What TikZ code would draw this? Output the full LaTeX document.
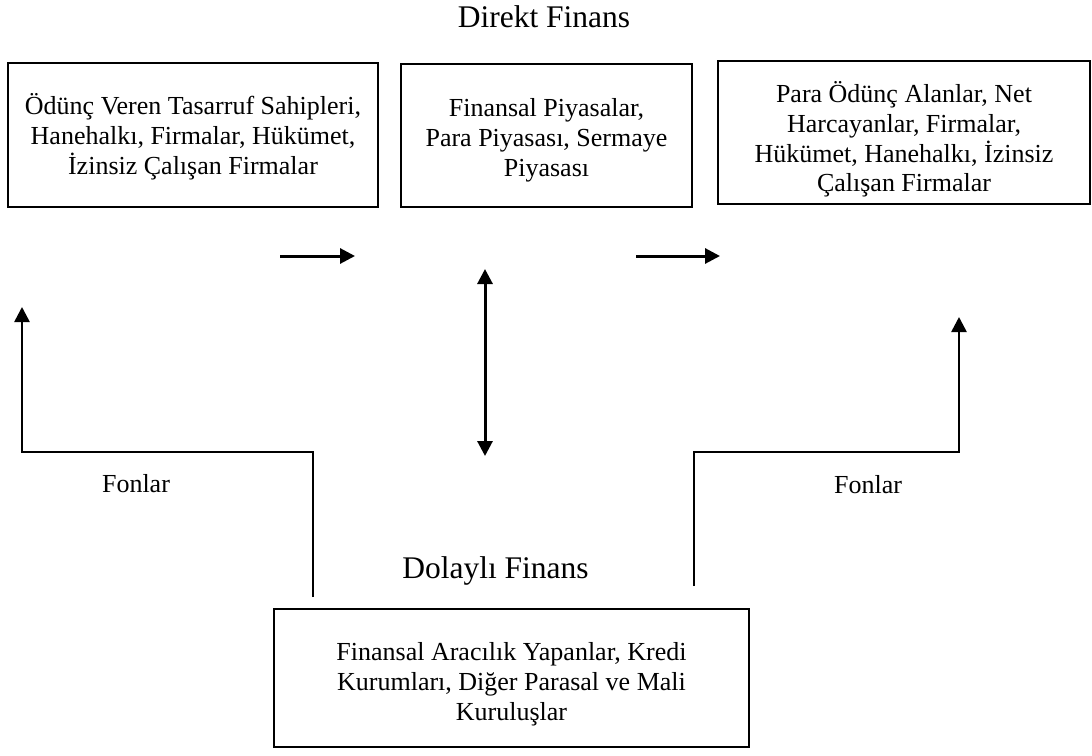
\documentclass[tikz,border=0pt]{standalone}
\usepackage{fontspec}
\setmainfont{Liberation Serif}
\usetikzlibrary{arrows.meta}
\tikzset{
  box/.style={draw, line width=1.8pt, inner sep=0pt},
  btxt/.style={inner sep=0pt, align=center, font=\fontsize{26}{29.8}\selectfont},
  ttl/.style={anchor=base, inner sep=0pt, font=\fontsize{31.5}{36}\selectfont},
  lbl/.style={anchor=base, inner sep=0pt, font=\fontsize{26}{30}\selectfont},
  arr/.style={line width=3pt, -{Triangle[length=15pt,width=15pt]}},
  darr/.style={line width=3pt, {Triangle[length=15pt,width=15pt]}-{Triangle[length=15pt,width=15pt]}},
  elb/.style={line width=2.6pt, -{Triangle[length=15pt,width=15pt]}}
}
\begin{document}
\begin{tikzpicture}[x=1pt,y=-1pt]
\useasboundingbox (0,0) rectangle (1092,755);

\node[ttl] (direkt) at (544,27) {Direkt Finans};
\node[ttl] (dolayli) at (495.5,578) {Dolaylı Finans};

\node[box, minimum width=370pt, minimum height=144pt] (lendbox) at (193,135) {};
\node[btxt] (lend) at (193,137)
  {Ödünç Veren Tasarruf Sahipleri,\\Hanehalkı, Firmalar, Hükümet,\\İzinsiz Çalışan Firmalar};
\node[box, minimum width=291pt, minimum height=143pt] (mktbox) at (546.5,135.5) {};
\node[btxt] (mkt) at (546.5,140)
  {Finansal Piyasalar,\\Para Piyasası, Sermaye\\Piyasası};
\node[box, minimum width=372pt, minimum height=143pt] (borrbox) at (904,132.5) {};
\node[btxt] (borr) at (904,139.5)
  {Para Ödünç Alanlar, Net\\Harcayanlar, Firmalar,\\Hükümet, Hanehalkı, İzinsiz\\Çalışan Firmalar};
\node[box, minimum width=475pt, minimum height=138pt] (interbox) at (511.5,678) {};
\node[btxt] (inter) at (511.5,684)
  {Finansal Aracılık Yapanlar, Kredi\\Kurumları, Diğer Parasal ve Mali\\Kuruluşlar};

\node[lbl] (fonL) at (136,492) {Fonlar};
\node[lbl] (fonR) at (868,493) {Fonlar};

% direct finance arrows
\coordinate (a1s) at (280,256); \coordinate (a1e) at (355,256);
\coordinate (a2s) at (636,256); \coordinate (a2e) at (720,256);
\draw[arr] (a1s) -- (a1e);
\draw[arr] (a2s) -- (a2e);

% double arrow
\coordinate (d1) at (485,269); \coordinate (d2) at (485,456);
\draw[darr] (d1) -- (d2);

% funds paths
\coordinate (l0) at (313,597); \coordinate (l1) at (22,307);
\draw[elb] (l0) |- (22,452) -- (l1);
\coordinate (r0) at (694,586); \coordinate (r1) at (959,317);
\draw[elb] (r0) |- (959,452) -- (r1);
\end{tikzpicture}
\end{document}
